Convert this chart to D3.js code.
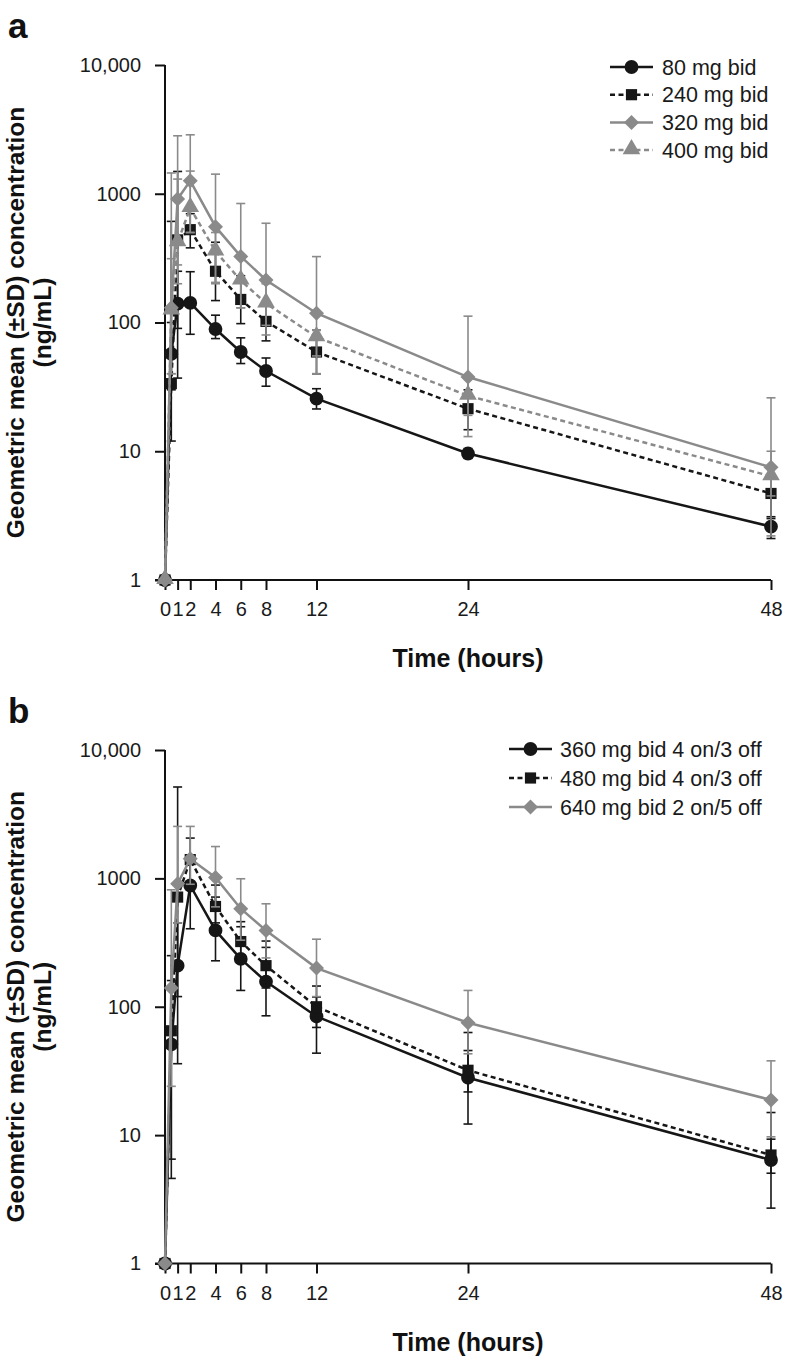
<!DOCTYPE html>
<html>
<head>
<meta charset="utf-8">
<script src="https://cdn.jsdelivr.net/npm/d3@7"></script>
<style>
  html, body { margin: 0; padding: 0; background: #fff; }
  svg { display: block; font-family: "Liberation Sans", Arial, Helvetica, sans-serif; }
</style>
</head>
<body>
<svg id="chart" width="786" height="1359"></svg>
<script>
// ---------- data ----------
const times = [0, 0.5, 1, 2, 4, 6, 8, 12, 24, 48];
const xTickValues = [0, 1, 2, 4, 6, 8, 12, 24, 48];
const yTickValues = [1, 10, 100, 1000, 10000];
const yTickLabels = ["1", "10", "100", "1000", "10,000"];

// Panel a
const aNames = ["80 mg bid", "240 mg bid", "320 mg bid", "400 mg bid"];
const a80    = [1, 57, 140, 142, 89, 59, 42, 25.6, 9.6, 2.6];
const a80Lo  = [null, 30, 90, 81, 75, 48, 32, 21.3, 8.8, 2.1];
const a80Hi  = [null, 100, 250, 248, 114, 76, 53, 30.6, 10.5, 3.1];
const a240   = [1, 33.5, 438, 526, 250, 151, 102, 59, 21.4, 4.7];
const a240Lo = [null, 12, 37, 380, 148, 98, 72, 40, 14.7, 3.0];
const a240Hi = [null, 610, 1490, 700, 420, 231, 140, 87, 30, 6.5];
const a320   = [1, 130, 910, 1260, 555, 326, 214, 118, 37.7, 7.5];
const a320Lo = [null, 40, 280, 500, 200, 130, 80, 40, 13, 2.2];
const a320Hi = [null, 1450, 2820, 2870, 1420, 840, 590, 325, 112, 26];
const a400   = [1, 124, 420, 775, 357, 212, 141, 77, 27, 6.4];
const a400Lo = [null, 40, 200, 500, 205, 130, 95, 55, 19, 4.5];
const a400Hi = [null, 313, 1300, 1500, 500, 330, 200, 87, 38, 10];

// Panel b
const bNames = ["360 mg bid 4 on/3 off", "480 mg bid 4 on/3 off", "640 mg bid 2 on/5 off"];
const b360   = [1, 51, 209, 880, 393, 236, 157, 84, 28, 6.4];
const b360Lo = [null, 4.6, 120, 405, 228, 134, 85, 43.5, 12.2, 2.7];
const b360Hi = [null, 160, 450, 1500, 715, 420, 290, 145, 45.6, 9.3];
const b480   = [1, 65, 715, 1400, 604, 322, 209, 100, 32, 7.0];
const b480Lo = [null, 6.5, 36, 900, 450, 240, 140, 69, 21.7, 5.05];
const b480Hi = [null, 250, 5150, 2060, 887, 460, 325, 119, 63, 15];
const b640   = [1, 140, 908, 1420, 1016, 580, 393, 200, 75, 18.8];
const b640Lo = [null, 24, 450, 900, 600, 330, 240, 120, 43, 9.7];
const b640Hi = [null, 815, 2540, 2540, 1770, 993, 634, 336, 134, 37.9];

// ---------- styles ----------
const BLACK = "#161616", GRAY = "#8a8a8a";
const DASH = "5,3.5";

const panels = [
  {
    label: "a", top: 65, bottom: 580,
    series: [
      { name: aNames[0], v: a80,  lo: a80Lo,  hi: a80Hi,  color: BLACK, dash: null, shape: "circle" },
      { name: aNames[1], v: a240, lo: a240Lo, hi: a240Hi, color: BLACK, dash: DASH, shape: "square" },
      { name: aNames[2], v: a320, lo: a320Lo, hi: a320Hi, color: GRAY,  dash: null, shape: "diamond" },
      { name: aNames[3], v: a400, lo: a400Lo, hi: a400Hi, color: GRAY,  dash: DASH, shape: "triangle" }
    ],
    legend: { x1: 610, x2: 653, tx: 662, y0: 67, dy: 27.7 }
  },
  {
    label: "b", top: 750, bottom: 1263.5,
    series: [
      { name: bNames[0], v: b360, lo: b360Lo, hi: b360Hi, color: BLACK, dash: null, shape: "circle" },
      { name: bNames[1], v: b480, lo: b480Lo, hi: b480Hi, color: BLACK, dash: DASH, shape: "square" },
      { name: bNames[2], v: b640, lo: b640Lo, hi: b640Hi, color: GRAY,  dash: null, shape: "diamond" }
    ],
    legend: { x1: 509, x2: 552, tx: 560, y0: 749, dy: 29 }
  }
];

const svg = d3.select("#chart");
const x = d3.scaleLinear().domain([0, 48]).range([165, 771]);

function marker(g, shape, cx, cy, color) {
  let p;
  if (shape === "circle") {
    p = g.append("path").attr("d", d3.symbol(d3.symbolCircle, 150)());
  } else if (shape === "square") {
    p = g.append("path").attr("d", d3.symbol(d3.symbolSquare, 125)());
  } else if (shape === "diamond") {
    p = g.append("path").attr("d", d3.symbol(d3.symbolSquare, 112)());
  } else {
    p = g.append("path").attr("d", d3.symbol(d3.symbolTriangle, 135)());
  }
  const rot = shape === "diamond" ? " rotate(45)" : "";
  const dy = shape === "triangle" ? -1 : 0;
  p.attr("transform", `translate(${cx},${cy + dy})${rot}`).attr("fill", color).attr("stroke", "none");
}

panels.forEach(P => {
  const y = d3.scaleLog().domain([1, 10000]).range([P.bottom, P.top]);
  const g = svg.append("g");

  // panel label
  svg.append("text").attr("x", 8).attr("y", P.top - 27)
    .attr("font-size", 35).attr("font-weight", "bold").attr("fill", "#111").text(P.label);

  // axes
  const yAxis = d3.axisLeft(y).tickValues(yTickValues)
    .tickFormat((d, i) => yTickLabels[i]).tickSize(10).tickPadding(14);
  const ya = g.append("g").attr("transform", "translate(165,0)").call(yAxis);
  ya.select(".domain").attr("stroke", "#111").attr("stroke-width", 2).attr("d", `M0,${P.top}V${P.bottom}`);
  ya.selectAll(".tick line").attr("stroke", "#111").attr("stroke-width", 2);
  ya.selectAll(".tick text").attr("font-size", 20).attr("fill", "#1a1a1a")
    .attr("font-family", "'Liberation Sans', Arial, sans-serif");

  const xAxis = d3.axisBottom(x).tickValues(xTickValues).tickSize(10).tickPadding(12);
  const xa = g.append("g").attr("transform", `translate(0,${P.bottom})`).call(xAxis);
  xa.select(".domain").attr("stroke", "#111").attr("stroke-width", 2).attr("d", `M155,0H${x(48)}`);
  xa.selectAll(".tick line").attr("stroke", "#111").attr("stroke-width", 2);
  xa.selectAll(".tick text").attr("font-size", 20).attr("fill", "#1a1a1a")
    .attr("font-family", "'Liberation Sans', Arial, sans-serif");

  // axis titles
  const midY = (P.top + P.bottom) / 2;
  g.append("text").attr("transform", `translate(24,${midY}) rotate(-90)`)
    .attr("text-anchor", "middle").attr("font-size", 24.5).attr("font-weight", "bold").attr("fill", "#111")
    .text("Geometric mean (±SD) concentration");
  g.append("text").attr("transform", `translate(51,${midY}) rotate(-90)`)
    .attr("text-anchor", "middle").attr("font-size", 24.5).attr("font-weight", "bold").attr("fill", "#111")
    .text("(ng/mL)");
  g.append("text").attr("x", 468).attr("y", P.bottom + 87)
    .attr("text-anchor", "middle").attr("font-size", 25).attr("font-weight", "bold").attr("fill", "#111")
    .text("Time (hours)");

  // series
  const line = d3.line().x(d => x(d.t)).y(d => y(d.v));
  P.series.forEach(s => {
    const pts = times.map((t, i) => ({ t, v: s.v[i], lo: s.lo[i], hi: s.hi[i] }));
    const sg = g.append("g");
    // error bars
    pts.filter(d => d.lo != null).forEach(d => {
      const cx = x(d.t);
      sg.append("line").attr("x1", cx).attr("x2", cx).attr("y1", y(d.lo)).attr("y2", y(d.hi))
        .attr("stroke", s.color).attr("stroke-width", 1.6);
      [d.lo, d.hi].forEach(v => {
        sg.append("line").attr("x1", cx - 4.5).attr("x2", cx + 4.5).attr("y1", y(v)).attr("y2", y(v))
          .attr("stroke", s.color).attr("stroke-width", 1.6);
      });
    });
    sg.append("path").datum(pts).attr("d", line).attr("fill", "none")
      .attr("stroke", s.color).attr("stroke-width", 2.5)
      .attr("stroke-dasharray", s.dash);
    pts.forEach(d => marker(sg, s.shape, x(d.t), y(d.v), s.color));
  });

  // legend
  const L = P.legend;
  P.series.forEach((s, i) => {
    const ly = L.y0 + i * L.dy;
    g.append("line").attr("x1", L.x1).attr("x2", L.x2).attr("y1", ly).attr("y2", ly)
      .attr("stroke", s.color).attr("stroke-width", 2.5).attr("stroke-dasharray", s.dash);
    marker(g, s.shape, (L.x1 + L.x2) / 2, ly, s.color);
    g.append("text").attr("x", L.tx).attr("y", ly).attr("dy", "0.36em")
      .attr("font-size", 21.5).attr("fill", "#1a1a1a").text(s.name);
  });
});
</script>
</body>
</html>
